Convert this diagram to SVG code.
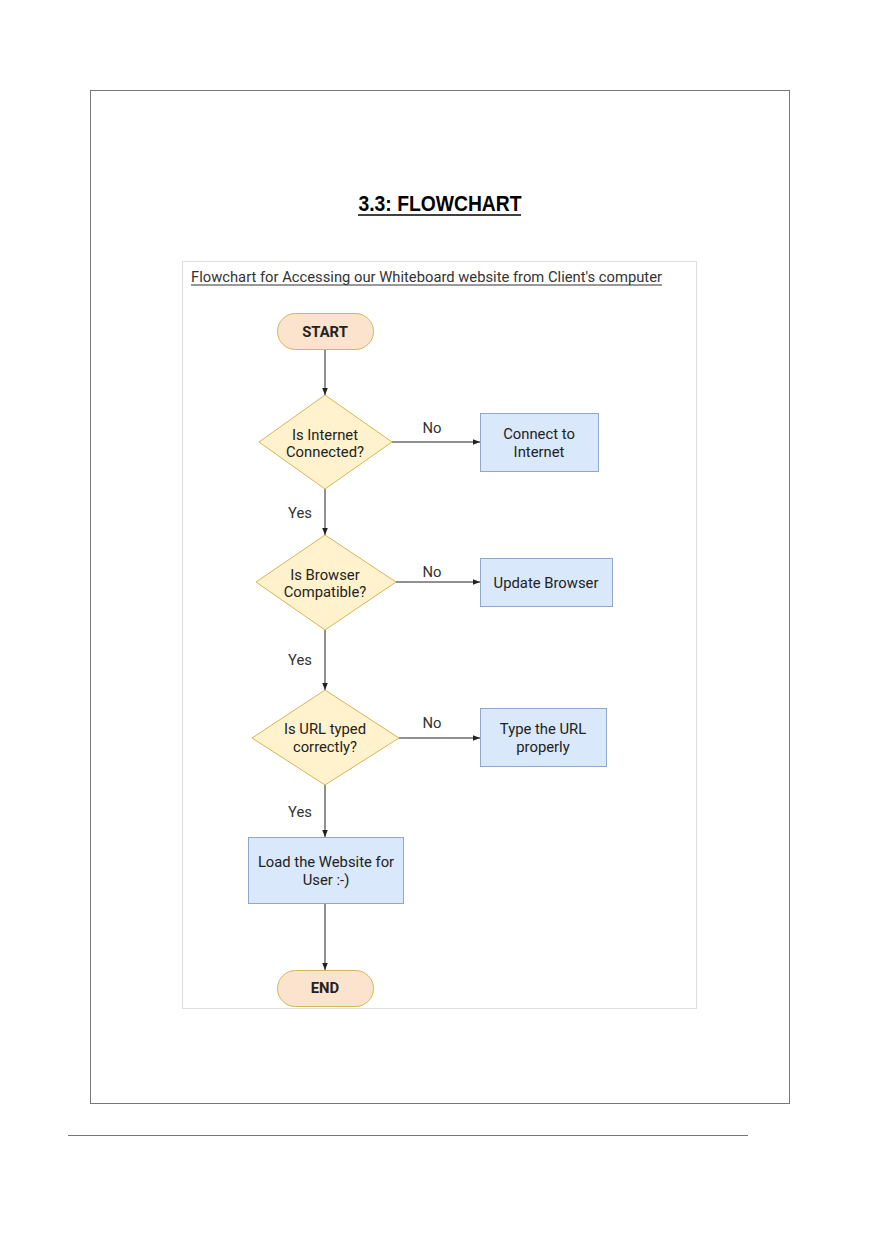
<svg xmlns="http://www.w3.org/2000/svg" width="880" height="1247" viewBox="0 0 880 1247">
<style>
.t{font-family:Roboto,"Liberation Sans",sans-serif;font-size:14.8px;fill:#222;text-anchor:middle}
.lbl{font-family:Roboto,"Liberation Sans",sans-serif;font-size:14.8px;fill:#333;text-anchor:middle}
.term{fill:#fbe3cd;stroke:#d6b656;stroke-width:1}
.dec{fill:#fff2cc;stroke:#d6b656;stroke-width:1}
.proc{fill:#dae8fc;stroke:#8fa8cc;stroke-width:1}
.edge{stroke:#222;stroke-width:1;fill:none;marker-end:url(#arr)}
</style>
<defs>
<marker id="arr" viewBox="0 0 10 10" refX="10" refY="5" markerWidth="7" markerHeight="7" markerUnits="userSpaceOnUse" orient="auto">
<path d="M0,1 L10,5 L0,9 Z" fill="#222"/>
</marker>
</defs>
<rect width="880" height="1247" fill="#fff"/>
<rect x="90.5" y="90.5" width="699" height="1013" fill="none" stroke="#777" stroke-width="1"/>
<line x1="68" y1="1135.5" x2="748" y2="1135.5" stroke="#777" stroke-width="1"/>
<text x="440" y="211" font-family="'Liberation Sans',sans-serif" font-weight="bold" font-size="22" text-anchor="middle" textLength="163" lengthAdjust="spacingAndGlyphs" fill="#000">3.3: FLOWCHART</text>
<line x1="358" y1="215" x2="521" y2="215" stroke="#000" stroke-width="1.5"/>
<rect x="182.5" y="261.5" width="514" height="747" fill="#fff" stroke="#ddd" stroke-width="1"/>
<text x="191" y="282" font-family="Roboto,'Liberation Sans',sans-serif" font-size="15" fill="#333" textLength="471" lengthAdjust="spacingAndGlyphs">Flowchart for Accessing our Whiteboard website from Client's computer</text>
<line x1="191" y1="285" x2="662" y2="285" stroke="#333" stroke-width="1"/>

<g id="connectors">
<line class="edge" x1="325" y1="350" x2="325" y2="395"/>
<line class="edge" x1="392" y1="442" x2="480" y2="442"/>
<line class="edge" x1="325" y1="489" x2="325" y2="535"/>
<line class="edge" x1="396" y1="582" x2="480" y2="582"/>
<line class="edge" x1="325" y1="630" x2="325" y2="690"/>
<line class="edge" x1="399" y1="738" x2="480" y2="738"/>
<line class="edge" x1="325" y1="785" x2="325" y2="837"/>
<line class="edge" x1="325" y1="903" x2="325" y2="970"/>
<text class="lbl" x="432" y="433">No</text>
<text class="lbl" x="300" y="518">Yes</text>
<text class="lbl" x="432" y="577">No</text>
<text class="lbl" x="300" y="665">Yes</text>
<text class="lbl" x="432" y="728">No</text>
<text class="lbl" x="300" y="817">Yes</text>
</g>

<g id="start">
<rect class="term" x="277.5" y="313.5" width="96" height="36" rx="18"/>
<text class="t" x="325" y="337" font-weight="bold">START</text>
</g>
<g id="d1">
<polygon class="dec" points="325,395 392,442 325,489 259,442"/>
<text class="t" x="325" y="440">Is Internet</text>
<text class="t" x="325" y="457">Connected?</text>
</g>
<g id="p1">
<rect class="proc" x="480.5" y="413.5" width="118" height="58"/>
<text class="t" x="539" y="439">Connect to</text>
<text class="t" x="539" y="457">Internet</text>
</g>
<g id="d2">
<polygon class="dec" points="325,535 396,582 325,630 256,582"/>
<text class="t" x="325" y="580">Is Browser</text>
<text class="t" x="325" y="597">Compatible?</text>
</g>
<g id="p2">
<rect class="proc" x="480.5" y="558.5" width="132" height="48"/>
<text class="t" x="546" y="588">Update Browser</text>
</g>
<g id="d3">
<polygon class="dec" points="325,690 399,738 325,785 252,738"/>
<text class="t" x="325" y="734">Is URL typed</text>
<text class="t" x="325" y="752">correctly?</text>
</g>
<g id="p3">
<rect class="proc" x="480.5" y="708.5" width="126" height="58"/>
<text class="t" x="543" y="734">Type the URL</text>
<text class="t" x="543" y="752">properly</text>
</g>
<g id="p4">
<rect class="proc" x="248.5" y="837.5" width="155" height="66"/>
<text class="t" x="326" y="867">Load the Website for</text>
<text class="t" x="326" y="885">User :-)</text>
</g>
<g id="end">
<rect class="term" x="277.5" y="970.5" width="96" height="36" rx="18"/>
<text class="t" x="325" y="993" font-weight="bold">END</text>
</g>
</svg>
